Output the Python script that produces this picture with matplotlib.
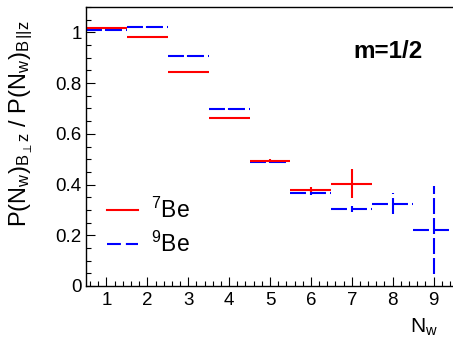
import matplotlib
matplotlib.use("Agg")
import matplotlib.pyplot as plt
from matplotlib.lines import Line2D
from matplotlib.ticker import MultipleLocator

plt.rcParams['font.family'] = ['Liberation Sans', 'DejaVu Sans']
plt.rcParams['mathtext.fontset'] = 'custom'
plt.rcParams['mathtext.rm'] = 'Liberation Sans'
plt.rcParams['mathtext.it'] = 'Liberation Sans'
plt.rcParams['mathtext.bf'] = 'Liberation Sans:bold'
plt.rcParams['lines.scale_dashes'] = False

# Ratio of multiplicity distributions, per number of wounded nucleons
nw_be7 = [1, 2, 3, 4, 5, 6, 7]
ratio_be7 = [1.016, 0.980, 0.845, 0.663, 0.494, 0.380, 0.404]
err_be7 = [0.003, 0.004, 0.004, 0.004, 0.005, 0.010, 0.056]

nw_be9 = [1, 2, 3, 4, 5, 6, 7, 8, 9]
ratio_be9 = [1.010, 1.020, 0.906, 0.697, 0.489, 0.367, 0.304, 0.325, 0.221]
err_be9 = [0.003, 0.004, 0.004, 0.005, 0.005, 0.008, 0.012, 0.040, 0.175]

x_ticks = [1, 2, 3, 4, 5, 6, 7, 8, 9]
y_ticks = [0, 0.2, 0.4, 0.6, 0.8, 1]
y_ticklabels = ['0', '0.2', '0.4', '0.6', '0.8', '1']

RED = '#ff0000'
BLUE = '#0000ff'
LW = 1.5
DASH = (0, (11.5, 2.9))

W, H = 453, 341
fig = plt.figure(figsize=(W / 100, H / 100), dpi=100)
ax = fig.add_axes([86 / W, 1 - 286 / H, (454 - 86) / W, (286 - 7) / H])

eb9 = ax.errorbar(nw_be9, ratio_be9, xerr=0.5, yerr=err_be9, fmt='none',
                  ecolor=BLUE, elinewidth=LW, capsize=0)
for lc in eb9[2]:
    lc.set_linestyle(DASH)
ax.errorbar(nw_be7, ratio_be7, xerr=0.5, yerr=err_be7, fmt='none',
            ecolor=RED, elinewidth=LW, capsize=0)

ax.set_xlim(0.5, 9.5)
ax.set_ylim(0, 1.1)
ax.set_xticks(x_ticks)
ax.set_xticklabels([str(v) for v in x_ticks])
ax.set_yticks(y_ticks)
ax.set_yticklabels(y_ticklabels)
ax.xaxis.set_minor_locator(MultipleLocator(0.2))
ax.yaxis.set_minor_locator(MultipleLocator(0.05))

ax.tick_params(which='both', direction='in', top=False, right=False,
               labelsize=13.5, width=0.8)
ax.tick_params(which='major', length=6.5)
ax.tick_params(which='minor', length=3.6)
ax.tick_params(axis='x', which='major', pad=4.5)
ax.tick_params(axis='y', which='major', pad=3)
for s in ax.spines.values():
    s.set_linewidth(1.0)

handles = [Line2D([], [], color=RED, lw=LW),
           Line2D([], [], color=BLUE, lw=LW, linestyle=(0, (10, 3.6)))]
ax.legend(handles, [r'$^{7}$Be', r'$^{9}$Be'], loc='upper left',
          bbox_to_anchor=((107 - 86) / 368, (286 - 198) / 279),
          frameon=False, fontsize=16.5, handlelength=1.35,
          handletextpad=0.55, labelspacing=0.38, borderaxespad=0,
          borderpad=0)

ax.text((353 - 86) / 368, (286 - 58.3) / 279, 'm=1/2', transform=ax.transAxes,
        fontsize=17.5, fontweight='bold', ha='left', va='baseline')

fig.text(438 / W, 1 - 333 / H, r'$\mathrm{N_w}$', fontsize=15,
         ha='right', va='baseline')

fig.text(8 / W, 1 - 20 / H,
         r'$\mathrm{P(N_w)_{B_{\perp}z}\ /\ P(N_w)_{B\,||z}}$',
         rotation=90, fontsize=17, ha='left', va='top')

fig.savefig('out.png', dpi=100)
